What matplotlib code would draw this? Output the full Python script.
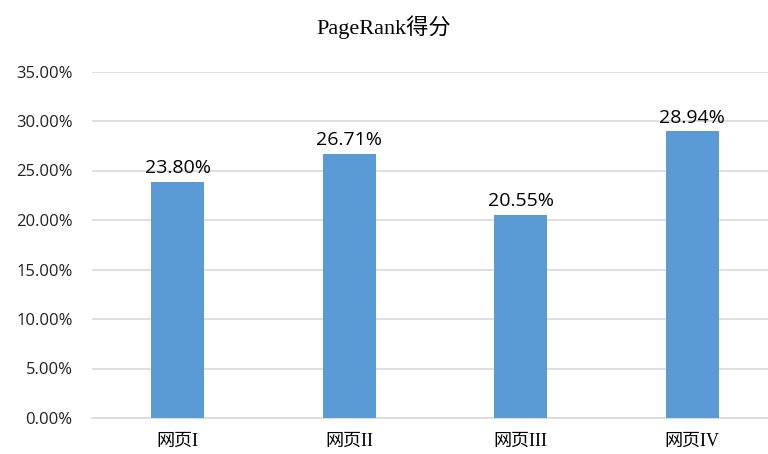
import matplotlib
matplotlib.use("Agg")
import matplotlib.pyplot as plt
from matplotlib.ticker import PercentFormatter

pages = ['网页I', '网页II', '网页III', '网页IV']
scores = [0.2380, 0.2671, 0.2055, 0.2894]
score_labels = ['23.80%', '26.71%', '20.55%', '28.94%']
yticks = [0, 0.05, 0.10, 0.15, 0.20, 0.25, 0.30, 0.35]

serif = ['Liberation Serif', 'Noto Sans CJK SC']
sans = ['Open Sans', 'DejaVu Sans']

fig = plt.figure(figsize=(7.68, 4.54), dpi=100)
ax = fig.add_axes([92 / 768, 36 / 454, 686 / 768, 346.5 / 454])

x = range(len(pages))
ax.bar(x, scores, width=0.31, color='#5B9BD5', zorder=3)
for i, (v, lab) in enumerate(zip(scores, score_labels)):
    ax.text(i, v + 0.005, lab, ha='center', va='bottom', fontsize=14,
            family=sans, color='black')

ax.set_xlim(-0.5, 3.5)
ax.set_ylim(0, 0.35)
ax.set_yticks(yticks)
ax.yaxis.set_major_formatter(PercentFormatter(1.0, decimals=2))
ax.set_xticks(list(x))
ax.set_xticklabels(pages, family=serif, fontsize=13)
for t in ax.get_yticklabels():
    t.set_family(sans)
    t.set_fontsize(12)
    t.set_color('#222222')
ax.tick_params(axis='both', length=0)
ax.tick_params(axis='y', pad=14)
ax.tick_params(axis='x', pad=11)
ax.yaxis.grid(True, color='#D9D9D9', linewidth=1.2, zorder=0)
for s in ['top', 'right', 'left']:
    ax.spines[s].set_visible(False)
ax.spines['bottom'].set_color('#D9D9D9')
ax.spines['bottom'].set_linewidth(1.2)

fig.text(0.5, 1 - 27 / 454, 'PageRank得分', ha='center', va='center',
         fontsize=16, family=serif)

fig.savefig('out.png', dpi=100)
